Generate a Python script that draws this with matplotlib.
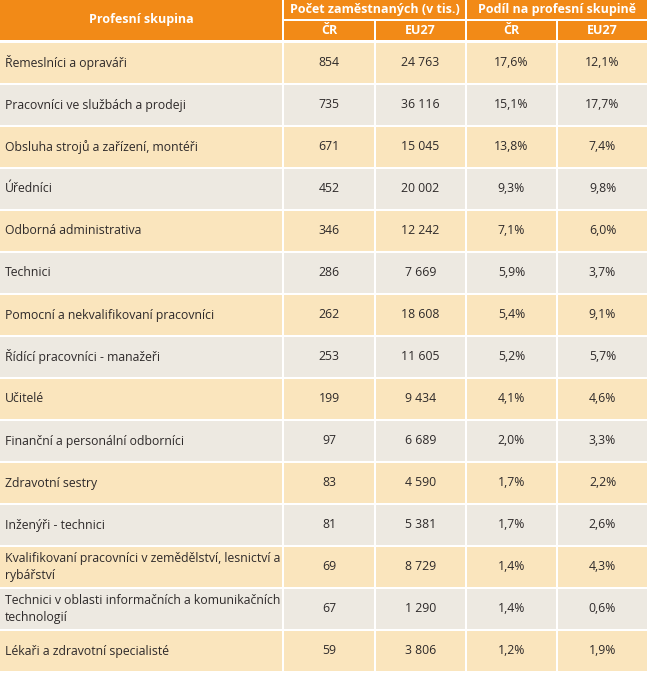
import matplotlib.pyplot as plt
from matplotlib.patches import Rectangle

plt.rcParams['font.family'] = ['Open Sans', 'DejaVu Sans']

groups = ["Řemeslníci a opraváři", "Pracovníci ve službách a prodeji",
          "Obsluha strojů a zařízení, montéři", "Úředníci",
          "Odborná administrativa", "Technici",
          "Pomocní a nekvalifikovaní pracovníci",
          "Řídící pracovníci - manažeři", "Učitelé",
          "Finanční a personální odborníci", "Zdravotní sestry",
          "Inženýři - technici",
          "Kvalifikovaní pracovníci v zemědělství, lesnictví a\nrybářství",
          "Technici v oblasti informačních a komunikačních\ntechnologií",
          "Lékaři a zdravotní specialisté"]
count_cr = [854, 735, 671, 452, 346, 286, 262, 253, 199, 97, 83, 81, 69, 67, 59]
count_eu = [24763, 36116, 15045, 20002, 12242, 7669, 18608, 11605, 9434,
            6689, 4590, 5381, 8729, 1290, 3806]
share_cr = [17.6, 15.1, 13.8, 9.3, 7.1, 5.9, 5.4, 5.2, 4.1, 2.0, 1.7, 1.7,
            1.4, 1.4, 1.2]
share_eu = [12.1, 17.7, 7.4, 9.8, 6.0, 3.7, 9.1, 5.7, 4.6, 3.3, 2.2, 2.6,
            4.3, 0.6, 1.9]

header_top = ["Počet zaměstnaných (v tis.)", "Podíl na profesní skupině"]
header_sub = ["ČR", "EU27", "ČR", "EU27"]
first_col = "Profesní skupina"

orange = "#F28A17"
row_colors = ["#FAE5BD", "#EDE9E1"]
text_color = "#2E2A2A"

col_w = [284, 92, 91, 91, 91]
col_x = [0]
for w in col_w:
    col_x.append(col_x[-1] + w)
gap = 2
h1, h2 = 21, 21
body_top = h1 + h2 + 1
row_h = 42

fig = plt.figure(figsize=(6.49, 6.73), dpi=100)
ax = fig.add_axes([0, 0, 1, 1])
ax.set_xlim(0, 649)
ax.set_ylim(673, 0)
ax.axis("off")

fs = 8.8
fs_head = 9.0


def cell(x0, x1, y0, y1, color):
    ax.add_patch(Rectangle((x0, y0), x1 - x0 - gap, y1 - y0 - gap,
                           facecolor=color, edgecolor="none"))


def fmt_int(v):
    return f"{v:,}".replace(",", " ")


def fmt_pct(v):
    return f"{v:.1f}%".replace(".", ",")


# header
cell(col_x[0], col_x[1], 0, h1 + h2, orange)
ax.text((col_x[0] + col_x[1] - gap) / 2, (h1 + h2 - gap) / 2, first_col,
        ha="center", va="center", color="white", fontsize=fs_head,
        fontweight="bold")
for i, label in enumerate(header_top):
    x0, x1 = col_x[1 + 2 * i], col_x[3 + 2 * i]
    cell(x0, x1, 0, h1, orange)
    ax.text((x0 + x1 - gap) / 2, (h1 - gap) / 2, label, ha="center",
            va="center", color="white", fontsize=fs_head, fontweight="bold")
for i, label in enumerate(header_sub):
    x0, x1 = col_x[1 + i], col_x[2 + i]
    cell(x0, x1, h1, h1 + h2, orange)
    ax.text((x0 + x1 - gap) / 2, h1 + (h2 - gap) / 2, label, ha="center",
            va="center", color="white", fontsize=fs_head, fontweight="bold")

# body
for r, name in enumerate(groups):
    y0 = body_top + r * row_h
    color = row_colors[r % 2]
    yc = y0 + (row_h - gap) / 2
    cell(col_x[0], col_x[1], y0, y0 + row_h, color)
    ax.text(5, yc, name, ha="left", va="center", color=text_color,
            fontsize=fs, linespacing=1.4)
    vals = [str(count_cr[r]), fmt_int(count_eu[r]),
            fmt_pct(share_cr[r]), fmt_pct(share_eu[r])]
    for c, v in enumerate(vals):
        x0, x1 = col_x[1 + c], col_x[2 + c]
        cell(x0, x1, y0, y0 + row_h, color)
        ax.text((x0 + x1 - gap) / 2, yc, v, ha="center", va="center",
                color=text_color, fontsize=fs)

fig.savefig("out.png", dpi=100, facecolor="white")
